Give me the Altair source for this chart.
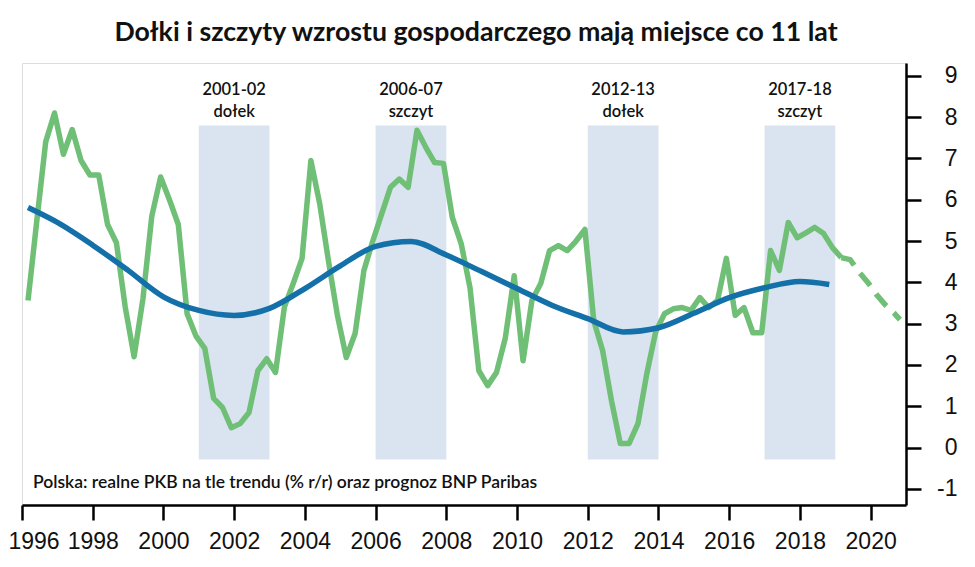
import altair as alt
import pandas as pd

TITLE = "Dołki i szczyty wzrostu gospodarczego mają miejsce co 11 lat"
NOTE = "Polska: realne PKB na tle trendu (% r/r) oraz prognoz BNP Paribas"

# quarterly GDP growth (% y/y), first quarter plotted at 1996.17
gdp_start = 1996.17
gdp = [3.56, 5.5, 7.4, 8.1, 7.1, 7.7, 6.95, 6.6, 6.6, 5.4,
       4.96, 3.4, 2.2, 3.6, 5.6, 6.55, 6.0, 5.4, 3.24, 2.7,
       2.4, 1.19, 0.97, 0.48, 0.58, 0.85, 1.86, 2.15, 1.82, 3.4,
       3.97, 4.58, 6.95, 5.9, 4.5, 3.2, 2.18, 2.76, 4.29, 5.0,
       5.65, 6.3, 6.5, 6.3, 7.68, 7.27, 6.9, 6.88, 5.57, 4.94,
       3.87, 1.86, 1.5, 1.82, 2.66, 4.16, 2.1, 3.56, 3.97, 4.77,
       4.89, 4.77, 5.0, 5.28, 3.07, 2.35, 1.14, 0.1, 0.1, 0.58,
       1.79, 2.8, 3.24, 3.36, 3.39, 3.32, 3.63, 3.39, 3.56, 4.58,
       3.2, 3.39, 2.78, 2.78, 4.77, 4.29, 5.45, 5.08, 5.2, 5.33,
       5.18, 4.84, 4.6]
gdp_years = [round(gdp_start + 0.25 * i, 2) for i in range(len(gdp))]

# BNP Paribas forecast (dashed)
fc_years = [2019.17, 2019.42, 2019.67, 2019.92, 2020.17, 2020.42, 2020.67, 2020.83]
fc_vals = [4.6, 4.55, 4.25, 4.0, 3.7, 3.45, 3.25, 3.1]

# trend
trend_years = [1996.17, 1997, 1998, 1999, 2000, 2001, 2002, 2003, 2004, 2005,
               2006, 2007, 2008, 2009, 2010, 2011, 2012, 2013, 2014, 2015,
               2016, 2017, 2018, 2018.83]
trend_vals = [5.81, 5.45, 4.9, 4.29, 3.65, 3.32, 3.2, 3.37, 3.85, 4.4,
              4.87, 4.99, 4.66, 4.26, 3.85, 3.44, 3.12, 2.8, 2.9, 3.25,
              3.63, 3.87, 4.02, 3.95]

# shaded periods
band_start = [2001, 2006, 2012, 2017]
band_end = [2003, 2008, 2014, 2019]
band_period = ["2001-02", "2006-07", "2012-13", "2017-18"]
band_phase = ["dołek", "szczyt", "dołek", "szczyt"]
band_low, band_high = -0.29, 7.8

x_ticks = list(range(1996, 2021, 2))
y_ticks = list(range(-1, 10))

GREEN = "#70bf76"
BLUE = "#1470a8"
BAND = "#dae3f0"
AXIS_FONT = "Liberation Sans"
TEXT_FONT = "Lato"

xs = alt.Scale(domain=[1996, 2021], nice=False, zero=False)
ys = alt.Scale(domain=[-1.39, 9.31], nice=False, zero=False)

x_axis = alt.Axis(
    values=x_ticks, format="d", title=None, grid=False, orient="bottom",
    labelFont=AXIS_FONT, labelFontSize=23, labelColor="#111",
    labelPadding=10, labelOverlap=False, labelFlush=True, labelFlushOffset=14,
    tickSize=15, tickWidth=2.5, tickColor="black",
    domainWidth=2.5, domainColor="black",
)
y_axis = alt.Axis(
    values=y_ticks, title=None, grid=False, orient="right",
    labelExpr="datum.value + ''",
    labelFont=AXIS_FONT, labelFontSize=23, labelColor="#111",
    labelAlign="right", labelBaseline="middle", labelPadding=36,
    tickSize=15, tickWidth=2.5, tickColor="black",
    domainWidth=2.5, domainColor="black",
)

gdp_df = pd.DataFrame({"year": gdp_years, "value": gdp})
fc_df = pd.DataFrame({"year": fc_years, "value": fc_vals})
trend_df = pd.DataFrame({"year": trend_years, "value": trend_vals})
bands_df = pd.DataFrame({"start": band_start, "end": band_end,
                         "period": band_period, "phase": band_phase})

bands = alt.Chart(bands_df).mark_rect(color=BAND).encode(
    x=alt.X("start:Q", scale=xs, axis=x_axis),
    x2="end:Q",
    y=alt.Y(datum=band_low, type="quantitative", scale=ys, axis=y_axis),
    y2=alt.Y2(datum=band_high),
)

label_style = dict(font=TEXT_FONT, fontSize=16.5, fontWeight=600, color="#111", baseline="middle")
band_labels_top = alt.Chart(bands_df).transform_calculate(
    mid="(datum.start + datum.end) / 2"
).mark_text(**label_style).encode(
    x=alt.X("mid:Q", scale=xs, axis=x_axis),
    y=alt.value(27),
    text="period:N",
)
band_labels_bottom = alt.Chart(bands_df).transform_calculate(
    mid="(datum.start + datum.end) / 2"
).mark_text(**label_style).encode(
    x=alt.X("mid:Q", scale=xs, axis=x_axis),
    y=alt.value(49),
    text="phase:N",
)

gdp_line = alt.Chart(gdp_df).mark_line(color=GREEN, strokeWidth=5.5, strokeJoin="round").encode(
    x=alt.X("year:Q", scale=xs, axis=x_axis),
    y=alt.Y("value:Q", scale=ys, axis=y_axis),
)
fc_line = alt.Chart(fc_df).mark_line(color=GREEN, strokeWidth=5.5, strokeDash=[16, 10]).encode(
    x=alt.X("year:Q", scale=xs, axis=x_axis),
    y=alt.Y("value:Q", scale=ys, axis=y_axis),
)
trend_line = alt.Chart(trend_df).mark_line(color=BLUE, strokeWidth=5.5, interpolate="monotone").encode(
    x=alt.X("year:Q", scale=xs, axis=x_axis),
    y=alt.Y("value:Q", scale=ys, axis=y_axis),
)

note = alt.Chart(pd.DataFrame({"t": [NOTE]})).mark_text(
    font=TEXT_FONT, fontSize=17.5, fontWeight=600, color="#111", align="left", baseline="middle"
).encode(x=alt.value(11), y=alt.value(420), text="t:N")

chart = alt.layer(
    bands, band_labels_top, band_labels_bottom, gdp_line, fc_line, trend_line, note
).properties(
    width=884, height=442,
    title=alt.TitleParams(TITLE, font=TEXT_FONT, fontSize=26.7, fontWeight="bold",
                          color="#111", anchor="middle", dx=12, offset=16),
    autosize=alt.AutoSizeParams(type="none"),
    padding={"left": 14, "top": 55, "right": 53, "bottom": 50},
).configure_view(stroke=None).configure(background="white")

chart.save("out.html", embed_options={"renderer": "svg", "actions": False})
